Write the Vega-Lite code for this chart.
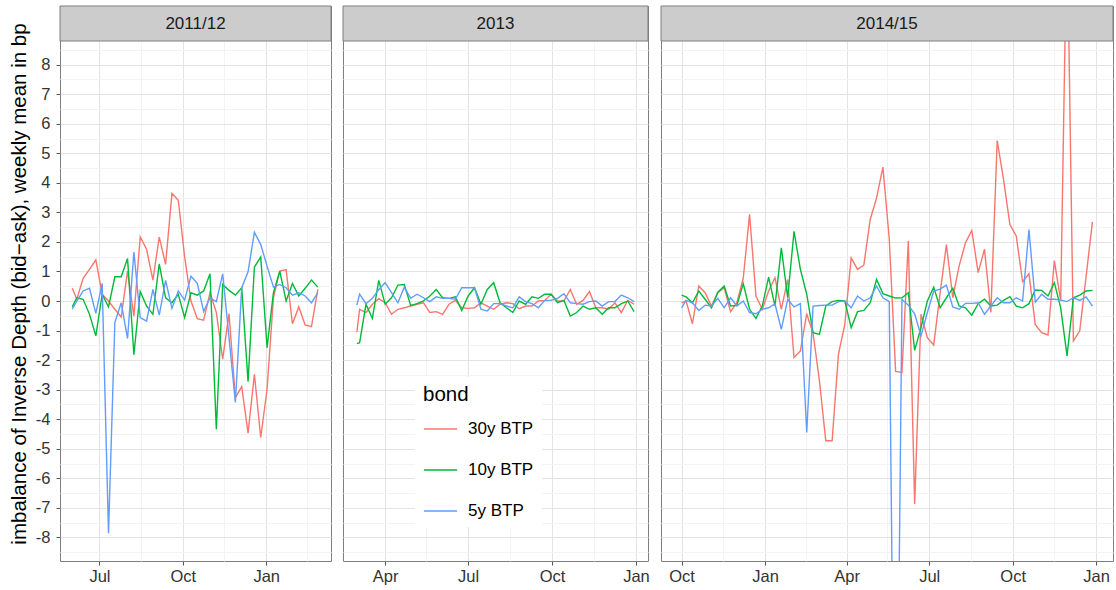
{
"$schema": "https://vega.github.io/schema/vega-lite/v6.json",
"padding": {"left": 8, "top": 5, "right": 0, "bottom": 2},
"config": {
  "font": "Liberation Sans",
  "view": {"stroke": "#7F7F7F", "strokeWidth": 1},
  "axis": {"labelFont": "Liberation Sans", "labelFontSize": 16.5, "labelColor": "#333333", "tickColor": "#555555", "tickSize": 4, "domain": false, "titleFont": "Liberation Sans", "titleFontWeight": "normal", "titleColor": "#000000"}
},
"datasets": {
"p1": [
{"date":"2011-06-01","bond":"30y BTP","value":0.43},{"date":"2011-06-06","bond":"30y BTP","value":0.06},{"date":"2011-06-13","bond":"30y BTP","value":0.77},{"date":"2011-06-20","bond":"30y BTP","value":1.07},{"date":"2011-06-27","bond":"30y BTP","value":1.39},{"date":"2011-07-04","bond":"30y BTP","value":0.23},{"date":"2011-07-11","bond":"30y BTP","value":0.0},{"date":"2011-07-18","bond":"30y BTP","value":-0.28},{"date":"2011-07-25","bond":"30y BTP","value":-0.54},{"date":"2011-08-01","bond":"30y BTP","value":1.01},
{"date":"2011-08-08","bond":"30y BTP","value":-0.51},{"date":"2011-08-15","bond":"30y BTP","value":2.17},{"date":"2011-08-22","bond":"30y BTP","value":1.75},{"date":"2011-08-29","bond":"30y BTP","value":0.71},{"date":"2011-09-05","bond":"30y BTP","value":2.16},{"date":"2011-09-12","bond":"30y BTP","value":1.24},{"date":"2011-09-19","bond":"30y BTP","value":3.64},{"date":"2011-09-26","bond":"30y BTP","value":3.41},{"date":"2011-10-03","bond":"30y BTP","value":1.5},{"date":"2011-10-10","bond":"30y BTP","value":0.0},
{"date":"2011-10-17","bond":"30y BTP","value":-0.6},{"date":"2011-10-24","bond":"30y BTP","value":-0.65},{"date":"2011-10-31","bond":"30y BTP","value":0.28},{"date":"2011-11-07","bond":"30y BTP","value":-0.39},{"date":"2011-11-14","bond":"30y BTP","value":-1.97},{"date":"2011-11-21","bond":"30y BTP","value":-0.43},{"date":"2011-11-28","bond":"30y BTP","value":-3.27},{"date":"2011-12-05","bond":"30y BTP","value":-2.9},{"date":"2011-12-12","bond":"30y BTP","value":-4.47},{"date":"2011-12-19","bond":"30y BTP","value":-2.48},
{"date":"2011-12-26","bond":"30y BTP","value":-4.62},{"date":"2012-01-02","bond":"30y BTP","value":-2.98},{"date":"2012-01-09","bond":"30y BTP","value":0.11},{"date":"2012-01-16","bond":"30y BTP","value":1.01},{"date":"2012-01-23","bond":"30y BTP","value":1.06},{"date":"2012-01-30","bond":"30y BTP","value":-0.77},{"date":"2012-02-06","bond":"30y BTP","value":-0.2},{"date":"2012-02-13","bond":"30y BTP","value":-0.81},{"date":"2012-02-20","bond":"30y BTP","value":-0.87},{"date":"2012-02-27","bond":"30y BTP","value":0.39},
{"date":"2011-06-01","bond":"10y BTP","value":-0.2},{"date":"2011-06-06","bond":"10y BTP","value":0.11},{"date":"2011-06-13","bond":"10y BTP","value":0.06},{"date":"2011-06-20","bond":"10y BTP","value":-0.45},{"date":"2011-06-27","bond":"10y BTP","value":-1.18},{"date":"2011-07-04","bond":"10y BTP","value":0.23},{"date":"2011-07-11","bond":"10y BTP","value":-0.2},{"date":"2011-07-18","bond":"10y BTP","value":0.82},{"date":"2011-07-25","bond":"10y BTP","value":0.82},{"date":"2011-08-01","bond":"10y BTP","value":1.44},
{"date":"2011-08-08","bond":"10y BTP","value":-1.82},{"date":"2011-08-15","bond":"10y BTP","value":0.32},{"date":"2011-08-22","bond":"10y BTP","value":-0.17},{"date":"2011-08-29","bond":"10y BTP","value":-0.45},{"date":"2011-09-05","bond":"10y BTP","value":1.26},{"date":"2011-09-12","bond":"10y BTP","value":0.11},{"date":"2011-09-19","bond":"10y BTP","value":-0.06},{"date":"2011-09-26","bond":"10y BTP","value":0.23},{"date":"2011-10-03","bond":"10y BTP","value":-0.56},{"date":"2011-10-10","bond":"10y BTP","value":0.28},
{"date":"2011-10-17","bond":"10y BTP","value":0.2},{"date":"2011-10-24","bond":"10y BTP","value":0.34},{"date":"2011-10-31","bond":"10y BTP","value":0.92},{"date":"2011-11-07","bond":"10y BTP","value":-4.34},{"date":"2011-11-14","bond":"10y BTP","value":0.56},{"date":"2011-11-21","bond":"10y BTP","value":0.36},{"date":"2011-11-28","bond":"10y BTP","value":0.2},{"date":"2011-12-05","bond":"10y BTP","value":0.45},{"date":"2011-12-12","bond":"10y BTP","value":-2.73},{"date":"2011-12-19","bond":"10y BTP","value":1.15},
{"date":"2011-12-26","bond":"10y BTP","value":1.49},{"date":"2012-01-02","bond":"10y BTP","value":-1.58},{"date":"2012-01-09","bond":"10y BTP","value":0.28},{"date":"2012-01-16","bond":"10y BTP","value":1.01},{"date":"2012-01-23","bond":"10y BTP","value":0.0},{"date":"2012-01-30","bond":"10y BTP","value":0.59},{"date":"2012-02-06","bond":"10y BTP","value":0.17},{"date":"2012-02-13","bond":"10y BTP","value":0.43},{"date":"2012-02-20","bond":"10y BTP","value":0.71},{"date":"2012-02-27","bond":"10y BTP","value":0.47},
{"date":"2011-06-01","bond":"5y BTP","value":-0.28},{"date":"2011-06-06","bond":"5y BTP","value":0.0},{"date":"2011-06-13","bond":"5y BTP","value":0.34},{"date":"2011-06-20","bond":"5y BTP","value":0.43},{"date":"2011-06-27","bond":"5y BTP","value":-0.42},{"date":"2011-07-04","bond":"5y BTP","value":0.6},{"date":"2011-07-11","bond":"5y BTP","value":-7.86},{"date":"2011-07-18","bond":"5y BTP","value":-0.73},{"date":"2011-07-25","bond":"5y BTP","value":-0.06},{"date":"2011-08-01","bond":"5y BTP","value":-1.27},
{"date":"2011-08-08","bond":"5y BTP","value":1.66},{"date":"2011-08-15","bond":"5y BTP","value":-0.56},{"date":"2011-08-22","bond":"5y BTP","value":-0.68},{"date":"2011-08-29","bond":"5y BTP","value":0.39},{"date":"2011-09-05","bond":"5y BTP","value":-0.48},{"date":"2011-09-12","bond":"5y BTP","value":0.7},{"date":"2011-09-19","bond":"5y BTP","value":-0.25},{"date":"2011-09-26","bond":"5y BTP","value":0.34},{"date":"2011-10-03","bond":"5y BTP","value":0.03},{"date":"2011-10-10","bond":"5y BTP","value":0.84},
{"date":"2011-10-17","bond":"5y BTP","value":0.6},{"date":"2011-10-24","bond":"5y BTP","value":-0.36},{"date":"2011-10-31","bond":"5y BTP","value":0.11},{"date":"2011-11-07","bond":"5y BTP","value":-0.02},{"date":"2011-11-14","bond":"5y BTP","value":0.92},{"date":"2011-11-21","bond":"5y BTP","value":-1.24},{"date":"2011-11-28","bond":"5y BTP","value":-3.43},{"date":"2011-12-05","bond":"5y BTP","value":0.45},{"date":"2011-12-12","bond":"5y BTP","value":0.99},{"date":"2011-12-19","bond":"5y BTP","value":2.33},
{"date":"2011-12-26","bond":"5y BTP","value":1.91},{"date":"2012-01-02","bond":"5y BTP","value":1.18},{"date":"2012-01-09","bond":"5y BTP","value":0.47},{"date":"2012-01-16","bond":"5y BTP","value":0.56},{"date":"2012-01-23","bond":"5y BTP","value":0.45},{"date":"2012-01-30","bond":"5y BTP","value":0.2},{"date":"2012-02-06","bond":"5y BTP","value":0.28},{"date":"2012-02-13","bond":"5y BTP","value":0.17},{"date":"2012-02-20","bond":"5y BTP","value":-0.06},{"date":"2012-02-27","bond":"5y BTP","value":0.28}
],
"p2": [
{"date":"2013-03-01","bond":"30y BTP","value":-1.05},{"date":"2013-03-04","bond":"30y BTP","value":-0.28},{"date":"2013-03-11","bond":"30y BTP","value":-0.39},{"date":"2013-03-18","bond":"30y BTP","value":-0.11},{"date":"2013-03-25","bond":"30y BTP","value":0.08},{"date":"2013-04-01","bond":"30y BTP","value":-0.06},{"date":"2013-04-08","bond":"30y BTP","value":-0.45},{"date":"2013-04-15","bond":"30y BTP","value":-0.28},{"date":"2013-04-22","bond":"30y BTP","value":-0.23},{"date":"2013-04-29","bond":"30y BTP","value":-0.17},
{"date":"2013-05-06","bond":"30y BTP","value":-0.11},{"date":"2013-05-13","bond":"30y BTP","value":-0.06},{"date":"2013-05-20","bond":"30y BTP","value":-0.39},{"date":"2013-05-27","bond":"30y BTP","value":-0.36},{"date":"2013-06-03","bond":"30y BTP","value":-0.45},{"date":"2013-06-10","bond":"30y BTP","value":-0.11},{"date":"2013-06-17","bond":"30y BTP","value":0.02},{"date":"2013-06-24","bond":"30y BTP","value":-0.23},{"date":"2013-07-01","bond":"30y BTP","value":-0.25},{"date":"2013-07-08","bond":"30y BTP","value":-0.23},
{"date":"2013-07-15","bond":"30y BTP","value":-0.06},{"date":"2013-07-22","bond":"30y BTP","value":-0.17},{"date":"2013-07-29","bond":"30y BTP","value":-0.28},{"date":"2013-08-05","bond":"30y BTP","value":-0.11},{"date":"2013-08-12","bond":"30y BTP","value":-0.06},{"date":"2013-08-19","bond":"30y BTP","value":-0.09},{"date":"2013-08-26","bond":"30y BTP","value":-0.26},{"date":"2013-09-02","bond":"30y BTP","value":-0.17},{"date":"2013-09-09","bond":"30y BTP","value":-0.17},{"date":"2013-09-16","bond":"30y BTP","value":0.0},
{"date":"2013-09-23","bond":"30y BTP","value":0.02},{"date":"2013-09-30","bond":"30y BTP","value":0.23},{"date":"2013-10-07","bond":"30y BTP","value":0.0},{"date":"2013-10-14","bond":"30y BTP","value":0.0},{"date":"2013-10-21","bond":"30y BTP","value":0.39},{"date":"2013-10-28","bond":"30y BTP","value":-0.11},{"date":"2013-11-04","bond":"30y BTP","value":0.02},{"date":"2013-11-11","bond":"30y BTP","value":0.32},{"date":"2013-11-18","bond":"30y BTP","value":-0.23},{"date":"2013-11-25","bond":"30y BTP","value":-0.23},
{"date":"2013-12-02","bond":"30y BTP","value":-0.28},{"date":"2013-12-09","bond":"30y BTP","value":-0.06},{"date":"2013-12-16","bond":"30y BTP","value":-0.39},{"date":"2013-12-23","bond":"30y BTP","value":0.02},{"date":"2013-12-30","bond":"30y BTP","value":-0.11},
{"date":"2013-03-01","bond":"10y BTP","value":-1.44},{"date":"2013-03-04","bond":"10y BTP","value":-1.41},{"date":"2013-03-11","bond":"10y BTP","value":-0.11},{"date":"2013-03-18","bond":"10y BTP","value":-0.59},{"date":"2013-03-25","bond":"10y BTP","value":0.7},{"date":"2013-04-01","bond":"10y BTP","value":-0.11},{"date":"2013-04-08","bond":"10y BTP","value":0.11},{"date":"2013-04-15","bond":"10y BTP","value":0.54},{"date":"2013-04-22","bond":"10y BTP","value":0.56},{"date":"2013-04-29","bond":"10y BTP","value":-0.15},
{"date":"2013-05-06","bond":"10y BTP","value":-0.09},{"date":"2013-05-13","bond":"10y BTP","value":0.0},{"date":"2013-05-20","bond":"10y BTP","value":0.17},{"date":"2013-05-27","bond":"10y BTP","value":0.39},{"date":"2013-06-03","bond":"10y BTP","value":0.11},{"date":"2013-06-10","bond":"10y BTP","value":0.09},{"date":"2013-06-17","bond":"10y BTP","value":0.14},{"date":"2013-06-24","bond":"10y BTP","value":-0.32},{"date":"2013-07-01","bond":"10y BTP","value":0.17},{"date":"2013-07-08","bond":"10y BTP","value":0.45},
{"date":"2013-07-15","bond":"10y BTP","value":-0.11},{"date":"2013-07-22","bond":"10y BTP","value":0.39},{"date":"2013-07-29","bond":"10y BTP","value":0.62},{"date":"2013-08-05","bond":"10y BTP","value":-0.06},{"date":"2013-08-12","bond":"10y BTP","value":-0.23},{"date":"2013-08-19","bond":"10y BTP","value":-0.39},{"date":"2013-08-26","bond":"10y BTP","value":0.0},{"date":"2013-09-02","bond":"10y BTP","value":-0.11},{"date":"2013-09-09","bond":"10y BTP","value":0.14},{"date":"2013-09-16","bond":"10y BTP","value":0.09},
{"date":"2013-09-23","bond":"10y BTP","value":0.23},{"date":"2013-09-30","bond":"10y BTP","value":0.23},{"date":"2013-10-07","bond":"10y BTP","value":-0.06},{"date":"2013-10-14","bond":"10y BTP","value":0.02},{"date":"2013-10-21","bond":"10y BTP","value":-0.51},{"date":"2013-10-28","bond":"10y BTP","value":-0.39},{"date":"2013-11-04","bond":"10y BTP","value":-0.17},{"date":"2013-11-11","bond":"10y BTP","value":-0.28},{"date":"2013-11-18","bond":"10y BTP","value":-0.23},{"date":"2013-11-25","bond":"10y BTP","value":-0.45},
{"date":"2013-12-02","bond":"10y BTP","value":-0.23},{"date":"2013-12-09","bond":"10y BTP","value":-0.23},{"date":"2013-12-16","bond":"10y BTP","value":-0.09},{"date":"2013-12-23","bond":"10y BTP","value":0.0},{"date":"2013-12-30","bond":"10y BTP","value":-0.36},
{"date":"2013-03-01","bond":"5y BTP","value":-0.14},{"date":"2013-03-04","bond":"5y BTP","value":0.23},{"date":"2013-03-11","bond":"5y BTP","value":-0.09},{"date":"2013-03-18","bond":"5y BTP","value":0.09},{"date":"2013-03-25","bond":"5y BTP","value":0.39},{"date":"2013-04-01","bond":"5y BTP","value":0.62},{"date":"2013-04-08","bond":"5y BTP","value":0.28},{"date":"2013-04-15","bond":"5y BTP","value":-0.06},{"date":"2013-04-22","bond":"5y BTP","value":0.47},{"date":"2013-04-29","bond":"5y BTP","value":0.09},
{"date":"2013-05-06","bond":"5y BTP","value":0.23},{"date":"2013-05-13","bond":"5y BTP","value":0.11},{"date":"2013-05-20","bond":"5y BTP","value":-0.02},{"date":"2013-05-27","bond":"5y BTP","value":0.14},{"date":"2013-06-03","bond":"5y BTP","value":0.09},{"date":"2013-06-10","bond":"5y BTP","value":0.09},{"date":"2013-06-17","bond":"5y BTP","value":0.06},{"date":"2013-06-24","bond":"5y BTP","value":0.45},{"date":"2013-07-01","bond":"5y BTP","value":0.45},{"date":"2013-07-08","bond":"5y BTP","value":0.45},
{"date":"2013-07-15","bond":"5y BTP","value":-0.28},{"date":"2013-07-22","bond":"5y BTP","value":-0.34},{"date":"2013-07-29","bond":"5y BTP","value":-0.09},{"date":"2013-08-05","bond":"5y BTP","value":-0.09},{"date":"2013-08-12","bond":"5y BTP","value":-0.17},{"date":"2013-08-19","bond":"5y BTP","value":-0.23},{"date":"2013-08-26","bond":"5y BTP","value":0.14},{"date":"2013-09-02","bond":"5y BTP","value":-0.02},{"date":"2013-09-09","bond":"5y BTP","value":-0.09},{"date":"2013-09-16","bond":"5y BTP","value":-0.23},
{"date":"2013-09-23","bond":"5y BTP","value":0.02},{"date":"2013-09-30","bond":"5y BTP","value":0.02},{"date":"2013-10-07","bond":"5y BTP","value":0.09},{"date":"2013-10-14","bond":"5y BTP","value":0.25},{"date":"2013-10-21","bond":"5y BTP","value":-0.06},{"date":"2013-10-28","bond":"5y BTP","value":-0.09},{"date":"2013-11-04","bond":"5y BTP","value":-0.11},{"date":"2013-11-11","bond":"5y BTP","value":-0.02},{"date":"2013-11-18","bond":"5y BTP","value":0.0},{"date":"2013-11-25","bond":"5y BTP","value":-0.17},
{"date":"2013-12-02","bond":"5y BTP","value":-0.02},{"date":"2013-12-09","bond":"5y BTP","value":-0.02},{"date":"2013-12-16","bond":"5y BTP","value":0.2},{"date":"2013-12-23","bond":"5y BTP","value":0.11},{"date":"2013-12-30","bond":"5y BTP","value":-0.02}
],
"p3": [
{"date":"2014-10-01","bond":"30y BTP","value":-0.06},{"date":"2014-10-06","bond":"30y BTP","value":0.0},{"date":"2014-10-13","bond":"30y BTP","value":-0.77},{"date":"2014-10-20","bond":"30y BTP","value":0.51},{"date":"2014-10-27","bond":"30y BTP","value":0.28},{"date":"2014-11-03","bond":"30y BTP","value":-0.17},{"date":"2014-11-10","bond":"30y BTP","value":0.28},{"date":"2014-11-17","bond":"30y BTP","value":0.45},{"date":"2014-11-24","bond":"30y BTP","value":-0.36},{"date":"2014-12-01","bond":"30y BTP","value":-0.06},
{"date":"2014-12-08","bond":"30y BTP","value":0.77},{"date":"2014-12-15","bond":"30y BTP","value":2.93},{"date":"2014-12-22","bond":"30y BTP","value":0.17},{"date":"2014-12-29","bond":"30y BTP","value":-0.28},{"date":"2015-01-05","bond":"30y BTP","value":0.34},{"date":"2015-01-12","bond":"30y BTP","value":0.79},{"date":"2015-01-19","bond":"30y BTP","value":-0.28},{"date":"2015-01-26","bond":"30y BTP","value":0.73},{"date":"2015-02-02","bond":"30y BTP","value":-1.91},{"date":"2015-02-09","bond":"30y BTP","value":-1.69},
{"date":"2015-02-16","bond":"30y BTP","value":-0.43},{"date":"2015-02-23","bond":"30y BTP","value":-1.1},{"date":"2015-03-02","bond":"30y BTP","value":-2.7},{"date":"2015-03-09","bond":"30y BTP","value":-4.73},{"date":"2015-03-16","bond":"30y BTP","value":-4.73},{"date":"2015-03-23","bond":"30y BTP","value":-1.8},{"date":"2015-03-30","bond":"30y BTP","value":-0.79},{"date":"2015-04-06","bond":"30y BTP","value":1.46},{"date":"2015-04-13","bond":"30y BTP","value":1.07},{"date":"2015-04-20","bond":"30y BTP","value":1.22},
{"date":"2015-04-27","bond":"30y BTP","value":2.76},{"date":"2015-05-04","bond":"30y BTP","value":3.49},{"date":"2015-05-11","bond":"30y BTP","value":4.53},{"date":"2015-05-18","bond":"30y BTP","value":2.1},{"date":"2015-05-25","bond":"30y BTP","value":-2.38},{"date":"2015-06-01","bond":"30y BTP","value":-2.42},{"date":"2015-06-08","bond":"30y BTP","value":2.03},{"date":"2015-06-15","bond":"30y BTP","value":-6.87},{"date":"2015-06-22","bond":"30y BTP","value":-0.45},{"date":"2015-06-29","bond":"30y BTP","value":-1.24},
{"date":"2015-07-06","bond":"30y BTP","value":-1.49},{"date":"2015-07-13","bond":"30y BTP","value":0.25},{"date":"2015-07-20","bond":"30y BTP","value":1.91},{"date":"2015-07-27","bond":"30y BTP","value":0.11},{"date":"2015-08-03","bond":"30y BTP","value":1.18},{"date":"2015-08-10","bond":"30y BTP","value":1.97},{"date":"2015-08-17","bond":"30y BTP","value":2.39},{"date":"2015-08-24","bond":"30y BTP","value":0.96},{"date":"2015-08-31","bond":"30y BTP","value":1.75},{"date":"2015-09-07","bond":"30y BTP","value":-0.39},
{"date":"2015-09-14","bond":"30y BTP","value":5.43},{"date":"2015-09-21","bond":"30y BTP","value":4.11},{"date":"2015-09-28","bond":"30y BTP","value":2.59},{"date":"2015-10-05","bond":"30y BTP","value":2.2},{"date":"2015-10-12","bond":"30y BTP","value":0.65},{"date":"2015-10-19","bond":"30y BTP","value":0.92},{"date":"2015-10-26","bond":"30y BTP","value":-0.8},{"date":"2015-11-02","bond":"30y BTP","value":-1.07},{"date":"2015-11-09","bond":"30y BTP","value":-1.15},{"date":"2015-11-16","bond":"30y BTP","value":1.37},
{"date":"2015-11-23","bond":"30y BTP","value":0.0},{"date":"2015-11-30","bond":"30y BTP","value":13.0},{"date":"2015-12-07","bond":"30y BTP","value":-1.35},{"date":"2015-12-14","bond":"30y BTP","value":-1.01},{"date":"2015-12-21","bond":"30y BTP","value":0.83},{"date":"2015-12-28","bond":"30y BTP","value":2.68},
{"date":"2014-10-01","bond":"10y BTP","value":0.2},{"date":"2014-10-06","bond":"10y BTP","value":0.14},{"date":"2014-10-13","bond":"10y BTP","value":-0.06},{"date":"2014-10-20","bond":"10y BTP","value":0.34},{"date":"2014-10-27","bond":"10y BTP","value":0.06},{"date":"2014-11-03","bond":"10y BTP","value":-0.23},{"date":"2014-11-10","bond":"10y BTP","value":0.3},{"date":"2014-11-17","bond":"10y BTP","value":0.51},{"date":"2014-11-24","bond":"10y BTP","value":-0.17},{"date":"2014-12-01","bond":"10y BTP","value":-0.15},
{"date":"2014-12-08","bond":"10y BTP","value":0.59},{"date":"2014-12-15","bond":"10y BTP","value":-0.28},{"date":"2014-12-22","bond":"10y BTP","value":-0.59},{"date":"2014-12-29","bond":"10y BTP","value":-0.17},{"date":"2015-01-05","bond":"10y BTP","value":0.81},{"date":"2015-01-12","bond":"10y BTP","value":-0.17},{"date":"2015-01-19","bond":"10y BTP","value":1.8},{"date":"2015-01-26","bond":"10y BTP","value":0.11},{"date":"2015-02-02","bond":"10y BTP","value":2.36},{"date":"2015-02-09","bond":"10y BTP","value":1.07},
{"date":"2015-02-16","bond":"10y BTP","value":0.23},{"date":"2015-02-23","bond":"10y BTP","value":-1.07},{"date":"2015-03-02","bond":"10y BTP","value":-1.13},{"date":"2015-03-09","bond":"10y BTP","value":-0.17},{"date":"2015-03-16","bond":"10y BTP","value":-0.02},{"date":"2015-03-23","bond":"10y BTP","value":0.02},{"date":"2015-03-30","bond":"10y BTP","value":0.0},{"date":"2015-04-06","bond":"10y BTP","value":-0.9},{"date":"2015-04-13","bond":"10y BTP","value":-0.36},{"date":"2015-04-20","bond":"10y BTP","value":-0.32},
{"date":"2015-04-27","bond":"10y BTP","value":-0.06},{"date":"2015-05-04","bond":"10y BTP","value":0.73},{"date":"2015-05-11","bond":"10y BTP","value":0.25},{"date":"2015-05-18","bond":"10y BTP","value":0.17},{"date":"2015-05-25","bond":"10y BTP","value":0.1},{"date":"2015-06-01","bond":"10y BTP","value":0.11},{"date":"2015-06-08","bond":"10y BTP","value":0.28},{"date":"2015-06-15","bond":"10y BTP","value":-1.67},{"date":"2015-06-22","bond":"10y BTP","value":-0.9},{"date":"2015-06-29","bond":"10y BTP","value":0.0},
{"date":"2015-07-06","bond":"10y BTP","value":0.47},{"date":"2015-07-13","bond":"10y BTP","value":-0.23},{"date":"2015-07-20","bond":"10y BTP","value":0.11},{"date":"2015-07-27","bond":"10y BTP","value":0.43},{"date":"2015-08-03","bond":"10y BTP","value":-0.17},{"date":"2015-08-10","bond":"10y BTP","value":-0.23},{"date":"2015-08-17","bond":"10y BTP","value":-0.48},{"date":"2015-08-24","bond":"10y BTP","value":-0.09},{"date":"2015-08-31","bond":"10y BTP","value":0.06},{"date":"2015-09-07","bond":"10y BTP","value":-0.17},
{"date":"2015-09-14","bond":"10y BTP","value":-0.14},{"date":"2015-09-21","bond":"10y BTP","value":0.02},{"date":"2015-09-28","bond":"10y BTP","value":0.15},{"date":"2015-10-05","bond":"10y BTP","value":-0.17},{"date":"2015-10-12","bond":"10y BTP","value":-0.23},{"date":"2015-10-19","bond":"10y BTP","value":-0.09},{"date":"2015-10-26","bond":"10y BTP","value":0.37},{"date":"2015-11-02","bond":"10y BTP","value":0.36},{"date":"2015-11-09","bond":"10y BTP","value":0.17},{"date":"2015-11-16","bond":"10y BTP","value":0.62},
{"date":"2015-11-23","bond":"10y BTP","value":-0.23},{"date":"2015-11-30","bond":"10y BTP","value":-1.86},{"date":"2015-12-07","bond":"10y BTP","value":0.11},{"date":"2015-12-14","bond":"10y BTP","value":0.2},{"date":"2015-12-21","bond":"10y BTP","value":0.34},{"date":"2015-12-28","bond":"10y BTP","value":0.36},
{"date":"2014-10-01","bond":"5y BTP","value":-0.23},{"date":"2014-10-06","bond":"5y BTP","value":0.02},{"date":"2014-10-13","bond":"5y BTP","value":-0.06},{"date":"2014-10-20","bond":"5y BTP","value":-0.32},{"date":"2014-10-27","bond":"5y BTP","value":-0.14},{"date":"2014-11-03","bond":"5y BTP","value":-0.17},{"date":"2014-11-10","bond":"5y BTP","value":0.09},{"date":"2014-11-17","bond":"5y BTP","value":-0.23},{"date":"2014-11-24","bond":"5y BTP","value":0.11},{"date":"2014-12-01","bond":"5y BTP","value":-0.17},
{"date":"2014-12-08","bond":"5y BTP","value":0.0},{"date":"2014-12-15","bond":"5y BTP","value":-0.39},{"date":"2014-12-22","bond":"5y BTP","value":-0.43},{"date":"2014-12-29","bond":"5y BTP","value":-0.28},{"date":"2015-01-05","bond":"5y BTP","value":-0.23},{"date":"2015-01-12","bond":"5y BTP","value":-0.1},{"date":"2015-01-19","bond":"5y BTP","value":-0.96},{"date":"2015-01-26","bond":"5y BTP","value":0.06},{"date":"2015-02-02","bond":"5y BTP","value":-0.2},{"date":"2015-02-09","bond":"5y BTP","value":-0.09},
{"date":"2015-02-16","bond":"5y BTP","value":-4.45},{"date":"2015-02-23","bond":"5y BTP","value":-0.17},{"date":"2015-03-02","bond":"5y BTP","value":-0.15},{"date":"2015-03-09","bond":"5y BTP","value":-0.14},{"date":"2015-03-16","bond":"5y BTP","value":-0.14},{"date":"2015-03-23","bond":"5y BTP","value":-0.02},{"date":"2015-03-30","bond":"5y BTP","value":0.0},{"date":"2015-04-06","bond":"5y BTP","value":-0.23},{"date":"2015-04-13","bond":"5y BTP","value":0.17},{"date":"2015-04-20","bond":"5y BTP","value":0.0},
{"date":"2015-04-27","bond":"5y BTP","value":0.11},{"date":"2015-05-04","bond":"5y BTP","value":0.51},{"date":"2015-05-11","bond":"5y BTP","value":0.11},{"date":"2015-05-18","bond":"5y BTP","value":-0.02},{"date":"2015-05-25","bond":"5y BTP","value":-21.0},{"date":"2015-06-01","bond":"5y BTP","value":0.06},{"date":"2015-06-08","bond":"5y BTP","value":-0.14},{"date":"2015-06-15","bond":"5y BTP","value":-0.43},{"date":"2015-06-22","bond":"5y BTP","value":-1.18},{"date":"2015-06-29","bond":"5y BTP","value":-0.39},
{"date":"2015-07-06","bond":"5y BTP","value":0.34},{"date":"2015-07-13","bond":"5y BTP","value":0.4},{"date":"2015-07-20","bond":"5y BTP","value":0.54},{"date":"2015-07-27","bond":"5y BTP","value":-0.2},{"date":"2015-08-03","bond":"5y BTP","value":-0.28},{"date":"2015-08-10","bond":"5y BTP","value":-0.08},{"date":"2015-08-17","bond":"5y BTP","value":-0.08},{"date":"2015-08-24","bond":"5y BTP","value":-0.06},{"date":"2015-08-31","bond":"5y BTP","value":-0.45},{"date":"2015-09-07","bond":"5y BTP","value":-0.17},
{"date":"2015-09-14","bond":"5y BTP","value":0.11},{"date":"2015-09-21","bond":"5y BTP","value":-0.06},{"date":"2015-09-28","bond":"5y BTP","value":-0.06},{"date":"2015-10-05","bond":"5y BTP","value":0.11},{"date":"2015-10-12","bond":"5y BTP","value":0.0},{"date":"2015-10-19","bond":"5y BTP","value":2.42},{"date":"2015-10-26","bond":"5y BTP","value":-0.04},{"date":"2015-11-02","bond":"5y BTP","value":0.23},{"date":"2015-11-09","bond":"5y BTP","value":0.06},{"date":"2015-11-16","bond":"5y BTP","value":0.06},
{"date":"2015-11-23","bond":"5y BTP","value":0.03},{"date":"2015-11-30","bond":"5y BTP","value":-0.02},{"date":"2015-12-07","bond":"5y BTP","value":0.11},{"date":"2015-12-14","bond":"5y BTP","value":0.02},{"date":"2015-12-21","bond":"5y BTP","value":0.14},{"date":"2015-12-28","bond":"5y BTP","value":-0.17}
]
},
"spacing": 10,
"resolve": {"scale": {"color": "shared"}, "legend": {"color": "shared"}},
"hconcat": [
{
  "width": 271, "height": 555,
  "layer": [
    {"data": {"name": "p1"},
     "mark": {"type": "line", "strokeWidth": 1.4, "clip": true},
     "encoding": {
       "x": {"field": "date", "type": "temporal", "scale": {"type": "utc", "domain": [{"year":2011,"month":5,"date":18,"hours":11,"utc":true},{"year":2012,"month":3,"date":12,"hours":13,"utc":true}]},
             "axis": {"values": [{"year":2011,"month":7,"date":1,"utc":true},{"year":2011,"month":10,"date":1,"utc":true},{"year":2012,"month":1,"date":1,"utc":true}], "format": "%b", "title": null, "grid": true, "gridColor": "#E3E3E3", "labelPadding": 3}},
       "y": {"field": "value", "type": "quantitative", "scale": {"domain": [-8.8, 9.985], "nice": false, "zero": false},
             "axis": {"values": [-8,-7,-6,-5,-4,-3,-2,-1,0,1,2,3,4,5,6,7,8], "title": "imbalance of Inverse Depth (bid−ask), weekly mean in bp", "titleFontSize": 20.5, "titlePadding": 6, "labelPadding": 6, "grid": true, "gridColor": "#E3E3E3", "labelExpr": "datum.value < 0 ? '-' + abs(datum.value) : '' + datum.value"}},
       "color": {"field": "bond", "type": "nominal", "scale": {"domain": ["30y BTP", "10y BTP", "5y BTP"], "range": ["#F8766D", "#00BA38", "#619CFF"]},
                 "legend": {"title": "bond", "orient": "none", "legendX": 355, "legendY": 371, "symbolType": "stroke", "symbolSize": 1100, "symbolStrokeWidth": 1.5, "labelFontSize": 17, "titleFontSize": 20.5, "titleFontWeight": "normal", "titleColor": "#000000", "labelColor": "#000000", "fillColor": "#FFFFFF", "padding": 8, "rowPadding": 15, "labelOffset": 10, "titlePadding": 6}}
     }},
    {"data": {"values": [{"label": "2011/12"}]},
     "mark": {"type": "rect", "fill": "#CCCCCC", "stroke": "#7F7F7F", "strokeWidth": 1},
     "encoding": {
       "x": {"datum": {"year":2011,"month":5,"date":18,"hours":11,"utc":true}, "type": "temporal",
             "axis": {"values": [{"year":2011,"month":8,"date":16,"utc":true},{"year":2011,"month":11,"date":16,"utc":true},{"year":2012,"month":2,"date":15,"utc":true}], "labels": false, "ticks": false, "title": null, "grid": true, "gridColor": "#F3F3F3"}},
       "x2": {"datum": {"year":2012,"month":3,"date":12,"hours":13,"utc":true}},
       "y": {"datum": 8.8, "type": "quantitative",
             "axis": {"values": [-8.5,-7.5,-6.5,-5.5,-4.5,-3.5,-2.5,-1.5,-0.5,0.5,1.5,2.5,3.5,4.5,5.5,6.5,7.5,8.5], "labels": false, "ticks": false, "title": null, "grid": true, "gridColor": "#F3F3F3"}},
       "y2": {"datum": 9.985}
     }},
    {"data": {"values": [{"label": "2011/12"}]},
     "mark": {"type": "text", "fontSize": 17, "color": "#1A1A1A", "baseline": "middle"},
     "encoding": {"text": {"field": "label"}, "y": {"datum": 9.39, "type": "quantitative", "axis": null}}}
  ],
  "resolve": {"axis": {"x": "independent", "y": "independent"}}
},
{
  "width": 305, "height": 555,
  "layer": [
    {"data": {"name": "p2"},
     "mark": {"type": "line", "strokeWidth": 1.4, "clip": true},
     "encoding": {
       "x": {"field": "date", "type": "temporal", "scale": {"type": "utc", "domain": [{"year":2013,"month":2,"date":13,"hours":19,"utc":true},{"year":2014,"month":1,"date":14,"hours":5,"utc":true}]},
             "axis": {"values": [{"year":2013,"month":4,"date":1,"utc":true},{"year":2013,"month":7,"date":1,"utc":true},{"year":2013,"month":10,"date":1,"utc":true},{"year":2014,"month":1,"date":1,"utc":true}], "format": "%b", "title": null, "grid": true, "gridColor": "#E3E3E3", "labelPadding": 3}},
       "y": {"field": "value", "type": "quantitative", "scale": {"domain": [-8.8, 9.985], "nice": false, "zero": false},
             "axis": {"values": [-8,-7,-6,-5,-4,-3,-2,-1,0,1,2,3,4,5,6,7,8], "title": null, "labels": false, "ticks": false, "grid": true, "gridColor": "#E3E3E3"}},
       "color": {"field": "bond", "type": "nominal", "scale": {"domain": ["30y BTP", "10y BTP", "5y BTP"], "range": ["#F8766D", "#00BA38", "#619CFF"]},
                 "legend": {"title": "bond", "orient": "none", "legendX": 355, "legendY": 371, "symbolType": "stroke", "symbolSize": 1100, "symbolStrokeWidth": 1.5, "labelFontSize": 17, "titleFontSize": 20.5, "titleFontWeight": "normal", "titleColor": "#000000", "labelColor": "#000000", "fillColor": "#FFFFFF", "padding": 8, "rowPadding": 15, "labelOffset": 10, "titlePadding": 6}}
     }},
    {"data": {"values": [{"label": "2013"}]},
     "mark": {"type": "rect", "fill": "#CCCCCC", "stroke": "#7F7F7F", "strokeWidth": 1},
     "encoding": {
       "x": {"datum": {"year":2013,"month":2,"date":13,"hours":19,"utc":true}, "type": "temporal",
             "axis": {"values": [{"year":2013,"month":5,"date":16,"utc":true},{"year":2013,"month":8,"date":16,"utc":true},{"year":2013,"month":11,"date":16,"utc":true}], "labels": false, "ticks": false, "title": null, "grid": true, "gridColor": "#F3F3F3"}},
       "x2": {"datum": {"year":2014,"month":1,"date":14,"hours":5,"utc":true}},
       "y": {"datum": 8.8, "type": "quantitative",
             "axis": {"values": [-8.5,-7.5,-6.5,-5.5,-4.5,-3.5,-2.5,-1.5,-0.5,0.5,1.5,2.5,3.5,4.5,5.5,6.5,7.5,8.5], "labels": false, "ticks": false, "title": null, "grid": true, "gridColor": "#F3F3F3"}},
       "y2": {"datum": 9.985}
     }},
    {"data": {"values": [{"label": "2013"}]},
     "mark": {"type": "text", "fontSize": 17, "color": "#1A1A1A", "baseline": "middle"},
     "encoding": {"text": {"field": "label"}, "y": {"datum": 9.39, "type": "quantitative", "axis": null}}}
  ],
  "resolve": {"axis": {"x": "independent", "y": "independent"}}
},
{
  "width": 452, "height": 555,
  "layer": [
    {"data": {"name": "p3"},
     "mark": {"type": "line", "strokeWidth": 1.4, "clip": true},
     "encoding": {
       "x": {"field": "date", "type": "temporal", "scale": {"type": "utc", "domain": [{"year":2014,"month":9,"date":8,"hours":8,"utc":true},{"year":2016,"month":1,"date":19,"hours":16,"utc":true}]},
             "axis": {"values": [{"year":2014,"month":10,"date":1,"utc":true},{"year":2015,"month":1,"date":1,"utc":true},{"year":2015,"month":4,"date":1,"utc":true},{"year":2015,"month":7,"date":1,"utc":true},{"year":2015,"month":10,"date":1,"utc":true},{"year":2016,"month":1,"date":1,"utc":true}], "format": "%b", "title": null, "grid": true, "gridColor": "#E3E3E3", "labelPadding": 3}},
       "y": {"field": "value", "type": "quantitative", "scale": {"domain": [-8.8, 9.985], "nice": false, "zero": false},
             "axis": {"values": [-8,-7,-6,-5,-4,-3,-2,-1,0,1,2,3,4,5,6,7,8], "title": null, "labels": false, "ticks": false, "grid": true, "gridColor": "#E3E3E3"}},
       "color": {"field": "bond", "type": "nominal", "scale": {"domain": ["30y BTP", "10y BTP", "5y BTP"], "range": ["#F8766D", "#00BA38", "#619CFF"]},
                 "legend": {"title": "bond", "orient": "none", "legendX": 355, "legendY": 371, "symbolType": "stroke", "symbolSize": 1100, "symbolStrokeWidth": 1.5, "labelFontSize": 17, "titleFontSize": 20.5, "titleFontWeight": "normal", "titleColor": "#000000", "labelColor": "#000000", "fillColor": "#FFFFFF", "padding": 8, "rowPadding": 15, "labelOffset": 10, "titlePadding": 6}}
     }},
    {"data": {"values": [{"label": "2014/15"}]},
     "mark": {"type": "rect", "fill": "#CCCCCC", "stroke": "#7F7F7F", "strokeWidth": 1},
     "encoding": {
       "x": {"datum": {"year":2014,"month":9,"date":8,"hours":8,"utc":true}, "type": "temporal",
             "axis": {"values": [{"year":2014,"month":11,"date":16,"utc":true},{"year":2015,"month":2,"date":15,"utc":true},{"year":2015,"month":5,"date":16,"utc":true},{"year":2015,"month":8,"date":16,"utc":true},{"year":2015,"month":11,"date":16,"utc":true}], "labels": false, "ticks": false, "title": null, "grid": true, "gridColor": "#F3F3F3"}},
       "x2": {"datum": {"year":2016,"month":1,"date":19,"hours":16,"utc":true}},
       "y": {"datum": 8.8, "type": "quantitative",
             "axis": {"values": [-8.5,-7.5,-6.5,-5.5,-4.5,-3.5,-2.5,-1.5,-0.5,0.5,1.5,2.5,3.5,4.5,5.5,6.5,7.5,8.5], "labels": false, "ticks": false, "title": null, "grid": true, "gridColor": "#F3F3F3"}},
       "y2": {"datum": 9.985}
     }},
    {"data": {"values": [{"label": "2014/15"}]},
     "mark": {"type": "text", "fontSize": 17, "color": "#1A1A1A", "baseline": "middle"},
     "encoding": {"text": {"field": "label"}, "y": {"datum": 9.39, "type": "quantitative", "axis": null}}}
  ],
  "resolve": {"axis": {"x": "independent", "y": "independent"}}
}
]
}
